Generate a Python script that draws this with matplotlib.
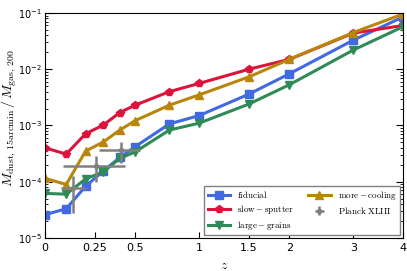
import numpy as np
import matplotlib
matplotlib.use('Agg')
import matplotlib.pyplot as plt
from matplotlib.ticker import FixedLocator, FixedFormatter, LogLocator, NullFormatter

###--->DADOS
z = [0, 0.1, 0.2, 0.3, 0.4, 0.5, 0.75, 1, 1.5, 2, 3, 4]
fiducial = [2.6e-5, 3.3e-5, 8.3e-5, 1.55e-4, 2.7e-4, 4.2e-4, 1.07e-3, 1.5e-3, 3.6e-3, 8.3e-3, 0.033, 0.085]
slow_sputter = [4.0e-4, 3.1e-4, 7.1e-4, 1.02e-3, 1.7e-3, 2.3e-3, 4.0e-3, 5.6e-3, 0.010, 0.015, 0.044, 0.060]
more_cooling = [1.15e-4, 8.9e-5, 3.5e-4, 5.1e-4, 8.3e-4, 1.22e-3, 2.3e-3, 3.5e-3, 7.3e-3, 0.015, 0.045, 0.096]
large_grains = [6.2e-5, 6.0e-5, 1.12e-4, 1.5e-4, 2.6e-4, 3.4e-4, 8.3e-4, 1.1e-3, 2.4e-3, 5.3e-3, 0.022, 0.057]

planck_z = [0.136, 0.258, 0.41]
planck_zlo = [0.073, 0.086, 0.276]
planck_zhi = [0.20, 0.433, 0.533]
planck_val = [7.8e-5, 1.93e-4, 3.7e-4]
planck_lo = [2.8e-5, 1.0e-4, 2.15e-4]
planck_hi = [1.26e-4, 2.9e-4, 5.1e-4]

xticks = [0, 0.25, 0.5, 1, 1.5, 2, 3, 4]
xticklabels = ['0', '0.25', '0.5', '1', '1.5', '2', '3', '4']


def fwd(x):
    return np.log10(1 + np.asarray(x))


def inv(y):
    return 10 ** np.asarray(y) - 1


fig = plt.figure(figsize=(4.07, 2.71), dpi=100)
ax = fig.add_axes([0.1106, 0.122, 0.8796, 0.830])

ax.plot(z, fiducial, '-s', color='#4169E1', lw=2.2, ms=5.5, label=r'$\rm fiducial$')
ax.plot(z, slow_sputter, '-p', color='#DC143C', lw=2.2, ms=6, label=r'$\rm slow-sputter$')
ax.plot(z, large_grains, '-v', color='#2E8B57', lw=2.2, ms=6, label=r'$\rm large-grains$')
ax.plot(z, more_cooling, '-^', color='#B8860B', lw=2.2, ms=6, label=r'$\rm more-cooling$')

pz = np.array(planck_z)
pv = np.array(planck_val)
xerr = [pz - np.array(planck_zlo), np.array(planck_zhi) - pz]
yerr = [pv - np.array(planck_lo), np.array(planck_hi) - pv]
ax.errorbar(pz, pv, xerr=xerr, yerr=yerr, fmt='o', color='gray', ms=3,
            elinewidth=1.8, capsize=0, label=r'$\rm Planck\ XLIII$')

ax.set_xscale('function', functions=(fwd, inv))
ax.set_yscale('log')
ax.set_xlim(0, 4)
ax.set_ylim(1e-5, 1e-1)

ax.xaxis.set_major_locator(FixedLocator(xticks))
ax.xaxis.set_major_formatter(FixedFormatter(xticklabels))
ax.xaxis.set_minor_locator(FixedLocator([]))
ax.tick_params(axis='x', which='major', direction='in', length=4, top=False, labelsize=8)
ax.yaxis.set_major_locator(LogLocator(base=10, numticks=10))
ax.yaxis.set_minor_locator(LogLocator(base=10, subs=np.arange(2, 10), numticks=10))
ax.yaxis.set_minor_formatter(NullFormatter())
ax.tick_params(axis='y', which='both', direction='in', left=True, right=True, labelsize=7, pad=2)
ax.tick_params(axis='y', which='major', length=5)
ax.tick_params(axis='y', which='minor', length=2.5)

ax.set_xlabel(r'$z$', fontsize=10, math_fontfamily='cm')
ax.set_ylabel(r'$M_{\rm dust,\,15arcmin}\,/\,M_{\rm gas,\,200}$', fontsize=10,
              math_fontfamily='cm')
ax.yaxis.set_label_coords(-0.072, 0.53)

leg = ax.legend(loc='lower right', ncol=2, fontsize=6.5, fancybox=False,
                edgecolor='gray', framealpha=1, handlelength=2.5,
                borderaxespad=0.3, columnspacing=1.5, labelspacing=0.35,
                borderpad=0.35)
for t in leg.get_texts():
    t.set_math_fontfamily('cm')

fig.savefig('out.png', dpi=100)
